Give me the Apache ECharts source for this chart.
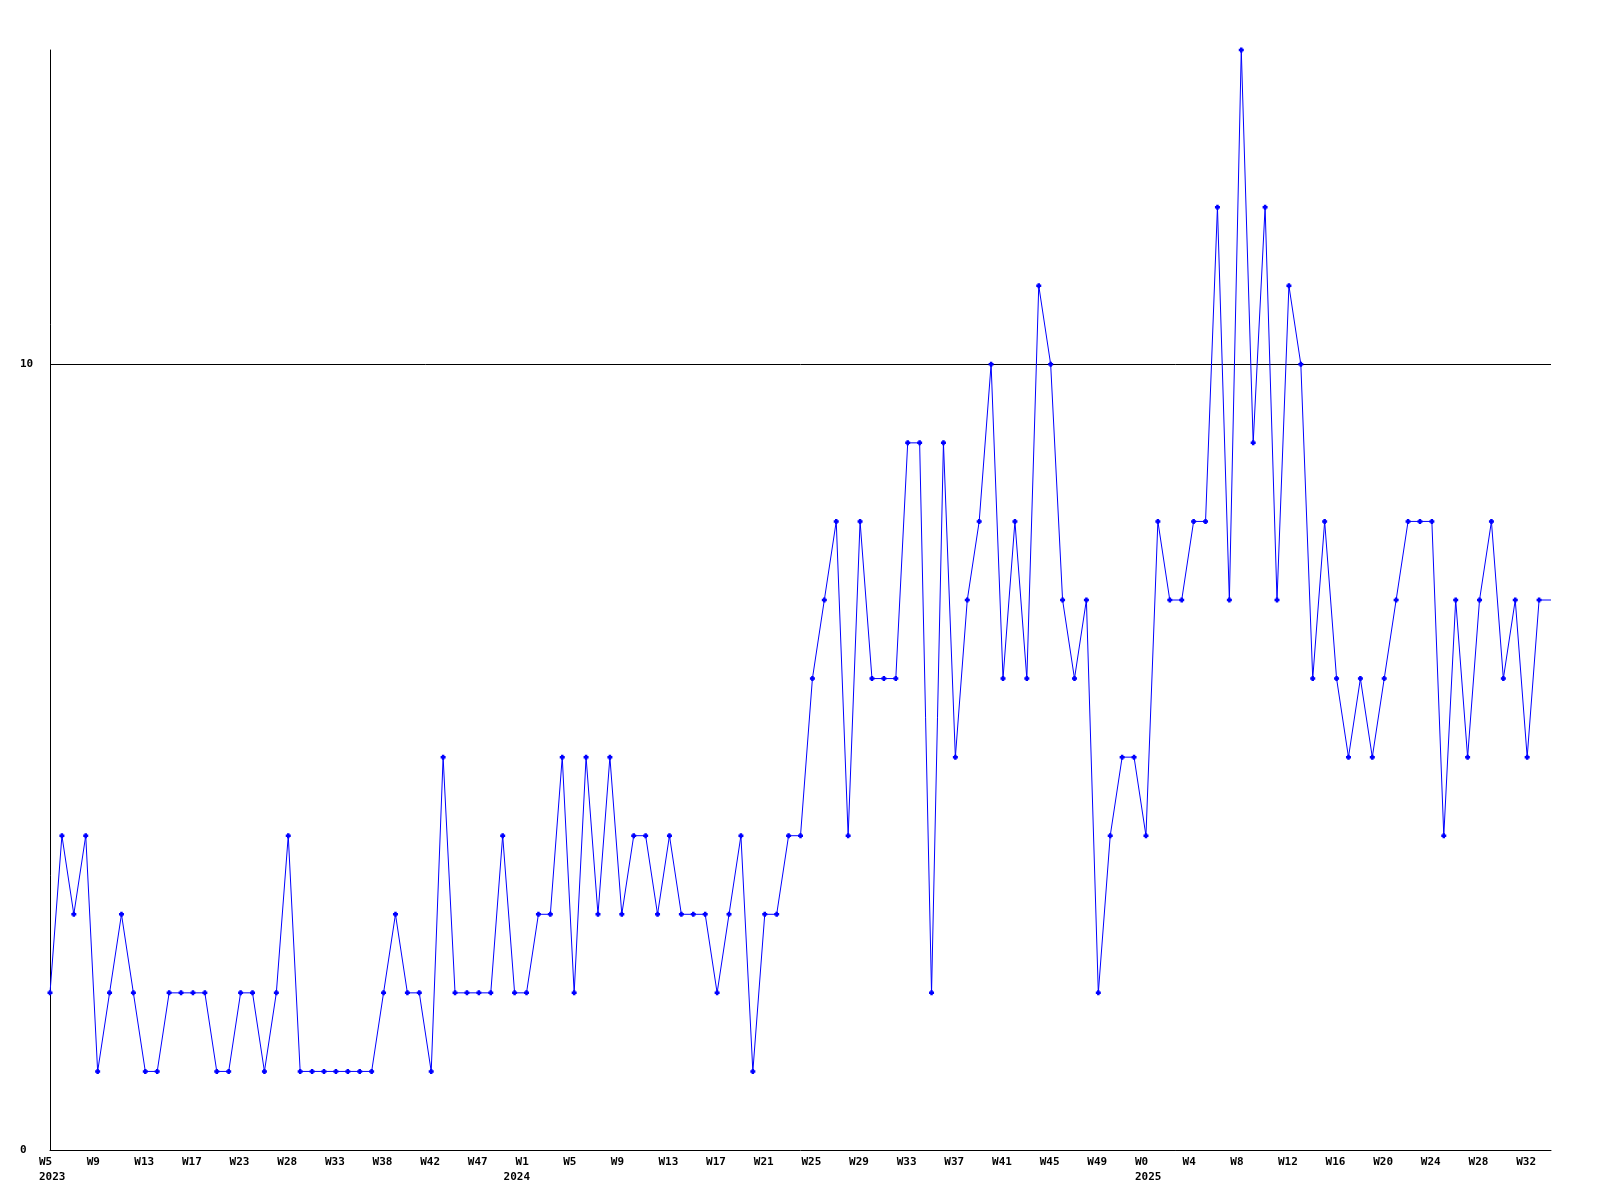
<!DOCTYPE html>
<html>
<head>
<meta charset="utf-8">
<script src="https://cdn.jsdelivr.net/npm/echarts@6/dist/echarts.min.js"></script>
<style>
  html, body { margin: 0; padding: 0; background: #ffffff; }
  #chart { width: 1600px; height: 1200px; }
</style>
</head>
<body>
<div id="chart"></div>
<script>
// Week tick labels shown every 4 points along the x axis
const tickLabels = [
  "W5", "W9", "W13", "W17", "W23", "W28", "W33", "W38", "W42", "W47",
  "W1", "W5", "W9", "W13", "W17", "W21", "W25", "W29", "W33", "W37", "W41", "W45", "W49",
  "W0", "W4", "W8", "W12", "W16", "W20", "W24", "W28", "W32"
];
const tickStep = 4;

// Year labels and the point index they sit under
const yearLabels = ["2023", "2024", "2025"];
const yearPointIndex = [0, 39, 92];

// Weekly values (one per marker)
const values = [
  2, 4, 3, 4, 1, 2, 3, 2, 1, 1,
  2, 2, 2, 2, 1, 1, 2, 2, 1, 2,
  4, 1, 1, 1, 1, 1, 1, 1, 2, 3,
  2, 2, 1, 5, 2, 2, 2, 2, 4, 2,
  2, 3, 3, 5, 2, 5, 3, 5, 3, 4,
  4, 3, 4, 3, 3, 3, 2, 3, 4, 1,
  3, 3, 4, 4, 6, 7, 8, 4, 8, 6,
  6, 6, 9, 9, 2, 9, 5, 7, 8, 10,
  6, 8, 6, 11, 10, 7, 6, 7, 2, 4,
  5, 5, 4, 8, 7, 7, 8, 8, 12, 7,
  14, 9, 12, 7, 11, 10, 6, 8, 6, 5,
  6, 5, 6, 7, 8, 8, 8, 4, 7, 5,
  7, 8, 6, 7, 5, 7
];
// The line continues flat to the right edge of the plot (no marker)
const edgeValue = 7;

const yMax = 14;
const yLabelValues = [0, 10];

const lineData = values.map((v, i) => [i, v]);
lineData.push({ value: [values.length, edgeValue], symbol: 'none' });

const chart = echarts.init(document.getElementById('chart'), null, { renderer: 'canvas' });
const font = 'DejaVu Sans Mono';
const labelBase = {
  show: true,
  color: '#000000',
  fontFamily: font,
  fontWeight: 'bold',
  fontSize: 11,
  align: 'left',
  padding: [0, 0, 0, -11]
};

chart.setOption({
  backgroundColor: '#ffffff',
  animation: false,
  grid: { left: 50, right: 49, top: 50, bottom: 50, containLabel: false },
  xAxis: [{
    type: 'value',
    position: 'bottom',
    min: 0,
    max: values.length,
    interval: tickStep,
    axisLine: { show: true, onZero: false, lineStyle: { color: '#000000', width: 1 } },
    axisTick: { show: false },
    splitLine: { show: false },
    axisLabel: Object.assign({}, labelBase, {
      margin: 7,
      showMinLabel: true,
      showMaxLabel: true,
      formatter: function (v) {
        const k = v / tickStep;
        return (Number.isInteger(k) && tickLabels[k] !== undefined) ? tickLabels[k] : '';
      }
    })
  }, {
    type: 'value',
    position: 'bottom',
    offset: 0,
    min: 0,
    max: values.length,
    axisLine: { show: false },
    axisTick: { show: false },
    splitLine: { show: false },
    axisLabel: Object.assign({}, labelBase, {
      margin: 22,
      hideOverlap: false,
      customValues: yearPointIndex,
      formatter: function (v) {
        const k = yearPointIndex.indexOf(v);
        return k >= 0 ? yearLabels[k] : '';
      }
    })
  }],
  yAxis: {
    type: 'value',
    min: 0,
    max: yMax,
    interval: 10,
    axisLine: { show: true, lineStyle: { color: '#000000', width: 1 } },
    axisTick: { show: false },
    splitLine: {
      show: true,
      showMinLine: false,
      showMaxLine: false,
      lineStyle: { color: '#000000', width: 1 }
    },
    axisLabel: {
      show: true,
      color: '#000000',
      fontFamily: font,
      fontWeight: 'bold',
      fontSize: 11,
      align: 'left',
      margin: 30,
      formatter: function (v) {
        return yLabelValues.indexOf(v) >= 0 ? String(v) : '';
      }
    }
  },
  series: [{
    type: 'line',
    xAxisIndex: 0,
    data: lineData,
    showSymbol: true,
    showAllSymbol: true,
    symbol: 'path://M1,0H3V1H4V3H3V4H1V3H0V1H1Z',
    symbolSize: 5,
    itemStyle: { color: '#0000ff' },
    lineStyle: { color: '#0000ff', width: 1 },
    emphasis: { disabled: true }
  }]
});
</script>
</body>
</html>
